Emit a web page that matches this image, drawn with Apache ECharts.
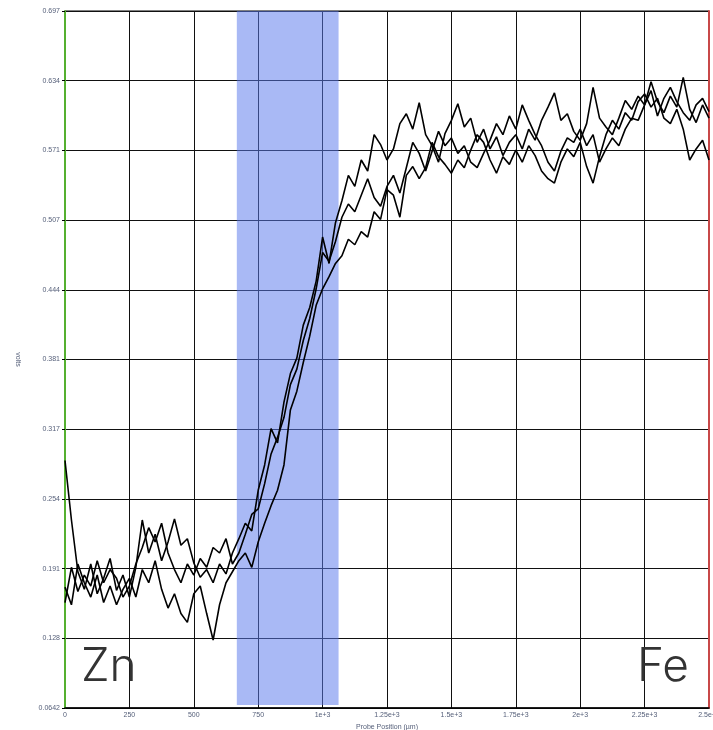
<!DOCTYPE html>
<html>
<head>
<meta charset="utf-8">
<script src="https://cdn.jsdelivr.net/npm/echarts@6/dist/echarts.min.js"></script>
<style>
  html, body { margin: 0; padding: 0; background: #fff; }
  #chart { width: 713px; height: 730px; }
</style>
</head>
<body>
<div id="chart"></div>
<script>
// probe positions (µm), one every 25
var positions = [];
for (var p = 0; p <= 2500; p += 25) positions.push(p);

// three probe scans, volts
var scanA = [0.289, 0.235, 0.188, 0.172, 0.195, 0.168, 0.182, 0.200, 0.171, 0.185,
  0.165, 0.192, 0.235, 0.205, 0.222, 0.198, 0.215, 0.236, 0.212, 0.218,
  0.196, 0.183, 0.190, 0.178, 0.195, 0.186, 0.205, 0.218, 0.232, 0.225,
  0.262, 0.285, 0.318, 0.305, 0.342, 0.368, 0.382, 0.412, 0.428, 0.452,
  0.492, 0.468, 0.505, 0.525, 0.548, 0.538, 0.562, 0.552, 0.585, 0.576,
  0.562, 0.572, 0.595, 0.604, 0.590, 0.614, 0.585, 0.575, 0.560, 0.586,
  0.598, 0.613, 0.592, 0.600, 0.578, 0.590, 0.572, 0.583, 0.566, 0.578,
  0.585, 0.572, 0.590, 0.580, 0.598, 0.610, 0.623, 0.598, 0.604, 0.588,
  0.580, 0.595, 0.628, 0.600, 0.592, 0.585, 0.600, 0.616, 0.608, 0.620,
  0.612, 0.633, 0.615, 0.605, 0.620, 0.610, 0.637, 0.608, 0.596, 0.612,
  0.600];
var scanB = [0.174, 0.158, 0.195, 0.178, 0.165, 0.185, 0.160, 0.175, 0.158, 0.172,
  0.182, 0.165, 0.190, 0.178, 0.198, 0.172, 0.155, 0.168, 0.150, 0.142,
  0.168, 0.175, 0.150, 0.126, 0.158, 0.178, 0.188, 0.198, 0.205, 0.192,
  0.215, 0.232, 0.248, 0.262, 0.285, 0.335, 0.352, 0.378, 0.402, 0.430,
  0.445, 0.456, 0.468, 0.475, 0.490, 0.485, 0.497, 0.492, 0.515, 0.508,
  0.535, 0.530, 0.510, 0.548, 0.556, 0.545, 0.555, 0.578, 0.565, 0.558,
  0.550, 0.562, 0.555, 0.571, 0.585, 0.578, 0.562, 0.550, 0.565, 0.558,
  0.571, 0.560, 0.575, 0.566, 0.552, 0.545, 0.541, 0.560, 0.572, 0.565,
  0.578, 0.556, 0.541, 0.565, 0.585, 0.598, 0.590, 0.605, 0.598, 0.615,
  0.622, 0.610, 0.618, 0.600, 0.595, 0.608, 0.590, 0.562, 0.572, 0.580,
  0.562];
var scanC = [0.160, 0.192, 0.170, 0.185, 0.175, 0.198, 0.178, 0.190, 0.182, 0.165,
  0.175, 0.195, 0.210, 0.228, 0.215, 0.232, 0.205, 0.190, 0.178, 0.195,
  0.185, 0.200, 0.192, 0.210, 0.205, 0.218, 0.195, 0.205, 0.222, 0.240,
  0.245, 0.268, 0.295, 0.310, 0.328, 0.358, 0.372, 0.398, 0.418, 0.445,
  0.478, 0.470, 0.488, 0.510, 0.522, 0.515, 0.530, 0.545, 0.528, 0.520,
  0.538, 0.548, 0.532, 0.555, 0.578, 0.568, 0.552, 0.570, 0.588, 0.575,
  0.582, 0.568, 0.575, 0.560, 0.555, 0.568, 0.580, 0.595, 0.585, 0.602,
  0.590, 0.612, 0.598, 0.585, 0.575, 0.560, 0.552, 0.570, 0.582, 0.578,
  0.590, 0.575, 0.585, 0.560, 0.572, 0.582, 0.575, 0.590, 0.600, 0.598,
  0.612, 0.625, 0.602, 0.618, 0.628, 0.615, 0.605, 0.598, 0.612, 0.618,
  0.606];

// interface region (µm)
var bandRange = [667, 1062];

var yMin = 0.06422, yStep = 0.06331, yMax = yMin + 10 * yStep;

function pairs(vals) {
  return vals.map(function (v, i) { return [positions[i], v]; });
}

var labelFont = { fontFamily: 'Liberation Sans', fontSize: 7, color: '#56607a' };

var chart = echarts.init(document.getElementById('chart'));
var option = {
  animation: false,
  grid: { left: 65, right: 4, top: 11, bottom: 22, outerBoundsMode: 'none',
    show: true, borderColor: '#000', borderWidth: 1 },
  xAxis: {
    type: 'value', min: 0, max: 2500, interval: 250,
    name: 'Probe Position (µm)', nameLocation: 'middle', nameGap: 10,
    nameTextStyle: labelFont,
    axisLine: { lineStyle: { color: '#000', width: 1.5 } },
    axisTick: { show: false },
    axisLabel: Object.assign({ margin: 4, formatter: function (v) {
      return v >= 1000 ? (v / 1000) + 'e+3' : String(v);
    } }, labelFont),
    splitLine: { lineStyle: { color: '#111', width: 1 } }
  },
  yAxis: [{
    type: 'value', min: yMin, max: yMax, interval: yStep,
    name: 'volts', nameLocation: 'middle', nameGap: 44, nameRotate: -90,
    nameTextStyle: labelFont,
    axisLine: { show: true, lineStyle: { color: '#55b030', width: 2 } },
    axisTick: { show: true, length: 3, lineStyle: { color: '#000' } },
    axisLabel: Object.assign({ margin: 5, formatter: function (v) {
      return String(Number(v.toPrecision(3)));
    } }, labelFont),
    splitLine: { lineStyle: { color: '#111', width: 1 } }
  }, {
    type: 'value', min: yMin, max: yMax, interval: yStep, position: 'right',
    axisLine: { show: true, lineStyle: { color: '#c84848', width: 2 } },
    axisTick: { show: false }, axisLabel: { show: false }, splitLine: { show: false }
  }],
  series: [
    { type: 'line', data: pairs(scanA), showSymbol: false, lineStyle: { color: '#000', width: 1.6 }, z: 2 },
    { type: 'line', data: pairs(scanB), showSymbol: false, lineStyle: { color: '#000', width: 1.6 }, z: 2 },
    { type: 'line', data: pairs(scanC), showSymbol: false, lineStyle: { color: '#000', width: 1.6 }, z: 2 },
    {
      type: 'line', data: [], z: 5,
      markArea: {
        silent: true,
        itemStyle: { color: 'rgba(90,121,235,0.52)' },
        data: [[{ xAxis: bandRange[0], yAxis: 0.067 }, { xAxis: bandRange[1], yAxis: yMax }]]
      }
    }
  ],
  graphic: [
    { type: 'text', left: 81, top: 644, z: 10,
      style: { text: 'Zn', font: '300 46px Inter, "Open Sans", sans-serif', fill: '#333' } },
    { type: 'text', left: 637, top: 644, z: 10,
      style: { text: 'Fe', font: '300 46px Inter, "Open Sans", sans-serif', fill: '#333' } }
  ]
};
chart.setOption(option);
</script>
</body>
</html>
